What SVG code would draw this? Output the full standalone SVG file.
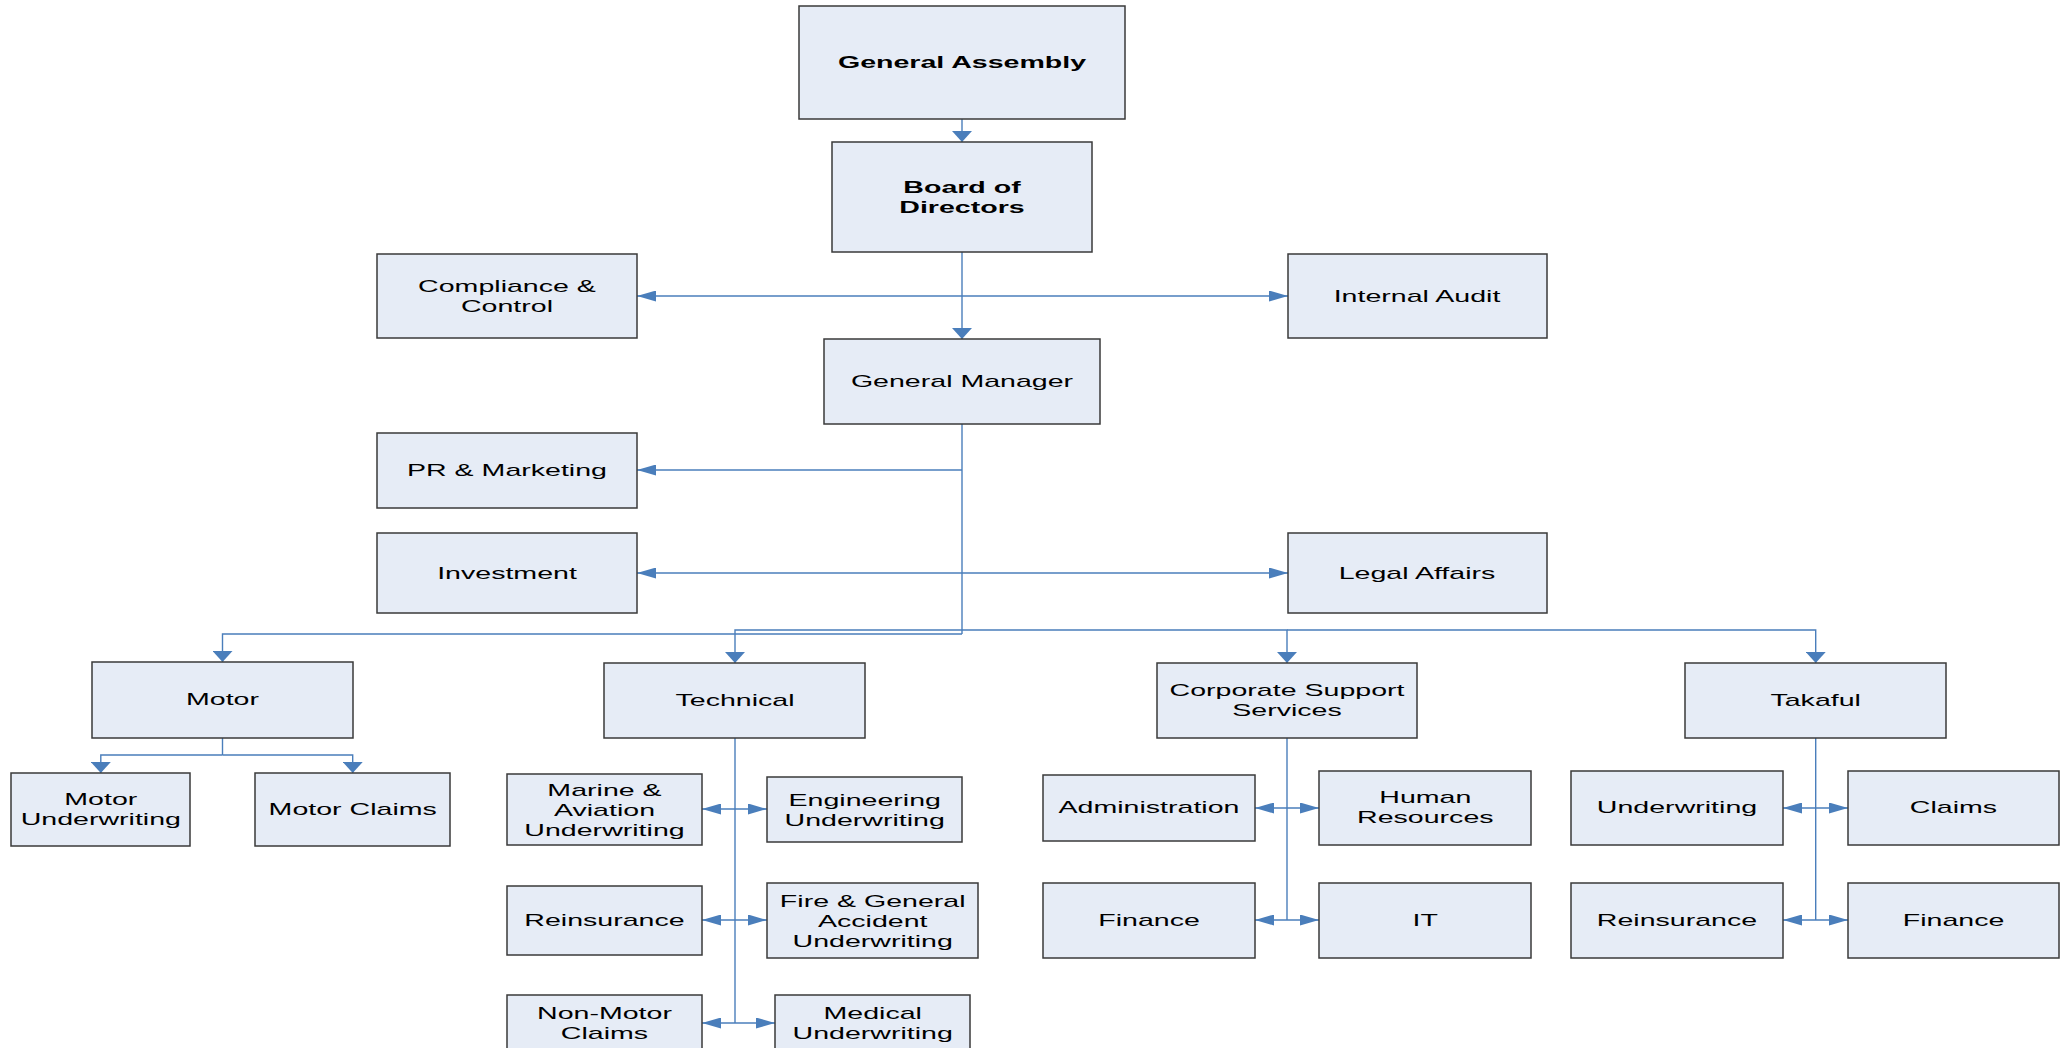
<svg xmlns="http://www.w3.org/2000/svg" width="2066" height="1048" viewBox="0 0 2066 1048">
<style>
.box{fill:#e6ecf6;stroke:#3a3a3a;stroke-width:1.5}
.t{font-family:"Liberation Sans",Arial,sans-serif;font-size:17px;fill:#000;text-anchor:middle}
.b{font-weight:bold}
.c{fill:none;stroke:#4a7ebb;stroke-width:1.4}
.h{marker-end:url(#ah)}
.hh{marker-start:url(#ah);marker-end:url(#ah)}
.v{marker-end:url(#av)}
</style>
<defs>
<marker id="ah" markerUnits="userSpaceOnUse" markerWidth="19" markerHeight="11" refX="19" refY="5.5" orient="auto-start-reverse"><path d="M0,0 L19,5.5 L0,11 Z" fill="#4a7ebb"/></marker>
<marker id="av" markerUnits="userSpaceOnUse" markerWidth="11" markerHeight="20" refX="11" refY="10" orient="auto-start-reverse"><path d="M0,0 L11,10 L0,20 Z" fill="#4a7ebb"/></marker>
</defs>
<rect width="2066" height="1048" fill="#fff"/>
<g id="connectors">
<path class="c v" d="M962,119 V142"/>
<path class="c v" d="M962,252 V339"/>
<path class="c hh" d="M637,296 H1288"/>
<path class="c h" d="M962,470 H637"/>
<path class="c hh" d="M637,573 H1288"/>
<path class="c" d="M962,424 V634"/>
<path class="c v" d="M962,634 H222.5 V662"/>
<path class="c v" d="M962,630 H735 V663"/>
<path class="c v" d="M962,630 H1287 V663"/>
<path class="c v" d="M1287,630 H1815.7 V663"/>
<path class="c" d="M222.5,738 V755"/>
<path class="c v" d="M222.5,755 H100.8 V773"/>
<path class="c v" d="M222.5,755 H352.7 V773"/>
<path class="c" d="M735,738 V1023"/>
<path class="c hh" d="M702,809 H767"/>
<path class="c hh" d="M702,920 H767"/>
<path class="c hh" d="M702,1023 H775"/>
<path class="c" d="M1287,738 V920"/>
<path class="c hh" d="M1255,808 H1319"/>
<path class="c hh" d="M1255,920 H1319"/>
<path class="c" d="M1815.7,738 V920"/>
<path class="c hh" d="M1783,808 H1848"/>
<path class="c hh" d="M1783,920 H1848"/>
</g>
<g id="general-assembly"><rect class="box" x="799" y="6" width="326" height="113"/><text class="t b" transform="translate(962,68) scale(1.68,1)">General Assembly</text></g>
<g id="board"><rect class="box" x="832" y="142" width="260" height="110"/><text class="t b" transform="translate(962,193) scale(1.68,1)"><tspan x="0">Board of</tspan><tspan x="0" dy="20">Directors</tspan></text></g>
<g id="general-manager"><rect class="box" x="824" y="339" width="276" height="85"/><text class="t" transform="translate(962,387) scale(1.68,1)">General Manager</text></g>
<g id="compliance"><rect class="box" x="377" y="254" width="260" height="84"/><text class="t" transform="translate(507,292) scale(1.68,1)"><tspan x="0">Compliance &amp;</tspan><tspan x="0" dy="20">Control</tspan></text></g>
<g id="internal-audit"><rect class="box" x="1288" y="254" width="259" height="84"/><text class="t" transform="translate(1417,302) scale(1.68,1)">Internal Audit</text></g>
<g id="pr-marketing"><rect class="box" x="377" y="433" width="260" height="75"/><text class="t" transform="translate(507,476) scale(1.68,1)">PR &amp; Marketing</text></g>
<g id="investment"><rect class="box" x="377" y="533" width="260" height="80"/><text class="t" transform="translate(507,579) scale(1.68,1)">Investment</text></g>
<g id="legal-affairs"><rect class="box" x="1288" y="533" width="259" height="80"/><text class="t" transform="translate(1417,579) scale(1.68,1)">Legal Affairs</text></g>
<g id="motor"><rect class="box" x="92" y="662" width="261" height="76"/><text class="t" transform="translate(222.5,705) scale(1.68,1)">Motor</text></g>
<g id="motor-underwriting"><rect class="box" x="11" y="773" width="179" height="73"/><text class="t" transform="translate(100.8,805) scale(1.68,1)"><tspan x="0">Motor</tspan><tspan x="0" dy="20">Underwriting</tspan></text></g>
<g id="motor-claims"><rect class="box" x="255" y="773" width="195" height="73"/><text class="t" transform="translate(352.7,815) scale(1.68,1)">Motor Claims</text></g>
<g id="technical"><rect class="box" x="604" y="663" width="261" height="75"/><text class="t" transform="translate(735,706) scale(1.68,1)">Technical</text></g>
<g id="marine-aviation"><rect class="box" x="507" y="774" width="195" height="71"/><text class="t" transform="translate(604.5,796) scale(1.68,1)"><tspan x="0">Marine &amp;</tspan><tspan x="0" dy="20">Aviation</tspan><tspan x="0" dy="20">Underwriting</tspan></text></g>
<g id="engineering"><rect class="box" x="767" y="777" width="195" height="65"/><text class="t" transform="translate(864.7,806) scale(1.68,1)"><tspan x="0">Engineering</tspan><tspan x="0" dy="20">Underwriting</tspan></text></g>
<g id="tech-reinsurance"><rect class="box" x="507" y="886" width="195" height="69"/><text class="t" transform="translate(604.5,926) scale(1.68,1)">Reinsurance</text></g>
<g id="fire-general"><rect class="box" x="767" y="883" width="211" height="75"/><text class="t" transform="translate(872.7,907) scale(1.68,1)"><tspan x="0">Fire &amp; General</tspan><tspan x="0" dy="20">Accident</tspan><tspan x="0" dy="20">Underwriting</tspan></text></g>
<g id="non-motor-claims"><rect class="box" x="507" y="995" width="195" height="60"/><text class="t" transform="translate(604.5,1019) scale(1.68,1)"><tspan x="0">Non-Motor</tspan><tspan x="0" dy="20">Claims</tspan></text></g>
<g id="medical"><rect class="box" x="775" y="995" width="195" height="60"/><text class="t" transform="translate(872.7,1019) scale(1.68,1)"><tspan x="0">Medical</tspan><tspan x="0" dy="20">Underwriting</tspan></text></g>
<g id="corporate-support"><rect class="box" x="1157" y="663" width="260" height="75"/><text class="t" transform="translate(1287,696) scale(1.68,1)"><tspan x="0">Corporate Support</tspan><tspan x="0" dy="20">Services</tspan></text></g>
<g id="administration"><rect class="box" x="1043" y="775" width="212" height="66"/><text class="t" transform="translate(1149,813) scale(1.68,1)">Administration</text></g>
<g id="human-resources"><rect class="box" x="1319" y="771" width="212" height="74"/><text class="t" transform="translate(1425.3,803) scale(1.68,1)"><tspan x="0">Human</tspan><tspan x="0" dy="20">Resources</tspan></text></g>
<g id="css-finance"><rect class="box" x="1043" y="883" width="212" height="75"/><text class="t" transform="translate(1149,926) scale(1.68,1)">Finance</text></g>
<g id="it"><rect class="box" x="1319" y="883" width="212" height="75"/><text class="t" transform="translate(1425.3,926) scale(1.68,1)">IT</text></g>
<g id="takaful"><rect class="box" x="1685" y="663" width="261" height="75"/><text class="t" transform="translate(1815.7,706) scale(1.68,1)">Takaful</text></g>
<g id="takaful-underwriting"><rect class="box" x="1571" y="771" width="212" height="74"/><text class="t" transform="translate(1677,813) scale(1.68,1)">Underwriting</text></g>
<g id="takaful-claims"><rect class="box" x="1848" y="771" width="211" height="74"/><text class="t" transform="translate(1953.5,813) scale(1.68,1)">Claims</text></g>
<g id="takaful-reinsurance"><rect class="box" x="1571" y="883" width="212" height="75"/><text class="t" transform="translate(1677,926) scale(1.68,1)">Reinsurance</text></g>
<g id="takaful-finance"><rect class="box" x="1848" y="883" width="211" height="75"/><text class="t" transform="translate(1953.5,926) scale(1.68,1)">Finance</text></g>
</svg>
